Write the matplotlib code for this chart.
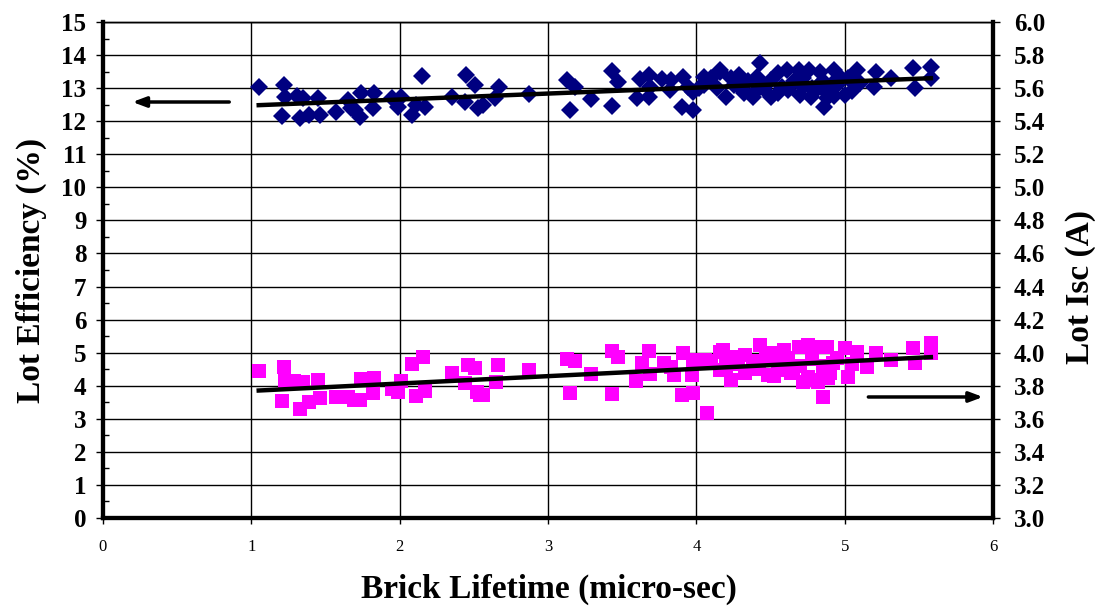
import numpy as np
import matplotlib
matplotlib.use("Agg")
import matplotlib.pyplot as plt
from matplotlib.ticker import MultipleLocator

# Blue diamonds: lifetime (micro-sec) vs lot efficiency (%)
eff_x = [1.05, 1.22, 1.23, 1.21, 1.31, 1.35, 1.33, 1.39, 1.45, 1.46, 1.57, 1.65, 1.67, 1.70,
         1.73, 1.74, 1.83, 1.82, 1.95, 2.01, 1.99, 2.08, 2.11, 2.17, 2.15, 2.35, 2.45, 2.51,
         2.44, 2.53, 2.56, 2.67, 2.64, 2.87, 3.13, 3.18, 3.15, 3.29, 3.43, 3.47, 3.43, 3.60,
         3.62, 3.68, 3.69, 3.68, 3.77, 3.83, 3.82, 3.91, 3.94, 3.90, 3.98, 3.98, 4.05, 4.02,
         4.16, 4.14, 4.16, 4.23, 4.20, 4.29, 4.32, 4.38, 4.43, 4.41, 4.50, 4.55, 4.61, 4.58,
         4.69, 4.72, 4.76, 4.77, 4.83, 4.81, 4.86, 4.88, 4.93, 4.92, 4.97, 5.00, 5.08, 5.10,
         5.21, 5.20, 5.31, 5.46, 5.47, 5.58, 5.58,
         4.25, 4.35, 4.45, 4.50, 4.62, 4.66, 4.72, 4.78, 4.80, 4.85, 4.90, 4.95, 5.02, 5.05,
         4.40, 4.30, 4.05, 4.10, 4.55, 4.70, 4.88, 4.93]
eff_y = [13.02, 13.09, 12.74, 12.17, 12.77, 12.69, 12.09, 12.19, 12.69, 12.19, 12.29, 12.64,
         12.39, 12.34, 12.14, 12.84, 12.84, 12.39, 12.71, 12.74, 12.42, 12.19, 12.49, 12.42,
         13.37, 12.74, 13.40, 13.09, 12.59, 12.39, 12.49, 13.04, 12.69, 12.81, 13.24, 13.04,
         12.34, 12.67, 13.52, 13.19, 12.47, 12.69, 13.27, 13.40, 13.04, 12.74, 13.27, 13.24,
         12.94, 13.35, 13.04, 12.44, 12.34, 12.89, 13.35, 12.99, 13.55, 12.99, 13.50, 13.30,
         12.74, 13.40, 12.84, 12.74, 13.75, 13.35, 12.74, 13.45, 13.55, 13.04, 13.55, 13.04,
         13.55, 12.74, 13.50, 13.04, 12.44, 12.84, 13.55, 13.14, 13.35, 12.79, 13.55, 13.14,
         13.50, 13.04, 13.30, 13.60, 12.99, 13.65, 13.30,
         13.10, 13.20, 13.00, 13.25, 12.95, 13.20, 13.30, 13.00, 12.90, 13.20, 12.95, 13.10,
         13.30, 12.90, 12.90, 13.00, 13.10, 13.30, 12.85, 12.80, 12.70, 12.75]

# Magenta squares: lifetime (micro-sec) vs lot Isc (A)
isc_x = [1.05, 1.22, 1.23, 1.29, 1.35, 1.21, 1.33, 1.39, 1.45, 1.46, 1.57, 1.65, 1.69, 1.73,
         1.74, 1.83, 1.82, 1.95, 2.01, 1.99, 2.08, 2.16, 2.11, 2.17, 2.35, 2.46, 2.51, 2.44,
         2.52, 2.54, 2.56, 2.66, 2.65, 2.87, 3.13, 3.18, 3.15, 3.29, 3.43, 3.47, 3.43, 3.59,
         3.63, 3.68, 3.69, 3.78, 3.83, 3.85, 3.91, 3.90, 3.98, 3.97, 3.98, 4.07, 4.06, 4.16,
         4.16, 4.18, 4.23, 4.25, 4.33, 4.33, 4.43, 4.42, 4.48, 4.52, 4.59, 4.56, 4.64, 4.69,
         4.75, 4.75, 4.81, 4.80, 4.88, 4.89, 4.85, 4.92, 5.00, 5.02, 5.08, 5.15, 5.21, 5.31,
         5.46, 5.47, 5.58, 5.58,
         4.28, 4.38, 4.47, 4.55, 4.62, 4.70, 4.78, 4.85, 4.95, 4.20, 4.40, 4.65, 4.90, 5.05,
         4.52, 4.72, 4.82, 4.10]
isc_y = [3.891, 3.915, 3.830, 3.830, 3.824, 3.709, 3.657, 3.703, 3.835, 3.724, 3.730, 3.734,
         3.714, 3.714, 3.839, 3.849, 3.754, 3.778, 3.830, 3.764, 3.931, 3.976, 3.738, 3.770,
         3.875, 3.925, 3.905, 3.815, 3.764, 3.744, 3.744, 3.925, 3.824, 3.895, 3.960, 3.951,
         3.758, 3.871, 4.012, 3.972, 3.750, 3.830, 3.936, 4.012, 3.871, 3.936, 3.915, 3.865,
         3.996, 3.744, 3.754, 3.865, 3.956, 3.633, 3.956, 4.006, 3.895, 4.016, 3.835, 3.976,
         3.986, 3.875, 4.046, 3.915, 3.865, 3.996, 4.016, 3.895, 3.875, 4.036, 4.046, 3.855,
         4.036, 3.835, 4.036, 3.845, 3.734, 3.936, 4.026, 3.855, 4.006, 3.915, 3.996, 3.956,
         4.026, 3.936, 4.056, 3.996,
         3.93, 3.95, 3.96, 3.94, 3.97, 3.92, 3.96, 3.92, 3.97, 3.92, 3.90, 3.90, 3.88, 3.93,
         3.86, 3.82, 3.82, 3.95]

x_ticks = [0, 1, 2, 3, 4, 5, 6]
eff_ticks = list(range(0, 16))
isc_ticks = [3.0, 3.2, 3.4, 3.6, 3.8, 4.0, 4.2, 4.4, 4.6, 4.8, 5.0, 5.2, 5.4, 5.6, 5.8, 6.0]

serif = ["Liberation Serif", "DejaVu Serif"]
plt.rcParams["font.family"] = serif

fig = plt.figure(figsize=(10.95, 6.07), dpi=100)
ax = fig.add_axes([0.094, 0.1466, 0.813, 0.8172])
ax2 = ax.twinx()

ax.set_xlim(0, 6)
ax.set_ylim(0, 15)
ax2.set_ylim(3.0, 6.0)

ax.set_xticks(x_ticks)
ax.set_yticks(eff_ticks)
ax2.set_yticks(isc_ticks)
ax.yaxis.set_minor_locator(MultipleLocator(0.5))

ax.grid(True, which="major", color="black", linewidth=1.0)
ax.set_axisbelow(True)

# Scatter data
ax.plot(eff_x, eff_y, linestyle="none", marker="D", markersize=9.5,
        color="#000080", markeredgewidth=0, zorder=3)
ax2.plot(isc_x, isc_y, linestyle="none", marker="s", markersize=10,
         color="#FF00FF", markeredgewidth=0, zorder=3)

# Linear trend lines
pe = np.polyfit(eff_x, eff_y, 1)
pi = np.polyfit(isc_x, isc_y, 1)
xe = np.array([min(eff_x), max(eff_x)])
xi = np.array([min(isc_x), max(isc_x)])
ax.plot(xe, np.polyval(pe, xe), color="black", linewidth=3.2, zorder=4)
ax2.plot(xi, np.polyval(pi, xi), color="black", linewidth=3.2, zorder=4)

# Arrows
ax.annotate("", xy=(0.18, 12.58), xytext=(0.87, 12.58),
            arrowprops=dict(arrowstyle="-|>,head_length=0.8,head_width=0.3", color="black", lw=2.5))
ax.annotate("", xy=(5.95, 3.66), xytext=(5.14, 3.66),
            arrowprops=dict(arrowstyle="-|>,head_length=0.8,head_width=0.3", color="black", lw=2.5))

# Spines
for a in (ax, ax2):
    a.spines["left"].set_linewidth(3)
    a.spines["right"].set_linewidth(3)
    a.spines["bottom"].set_linewidth(3)
    a.spines["top"].set_linewidth(1)

ax.tick_params(axis="x", which="major", direction="out", length=4, width=1,
               labelsize=12, pad=11)
ax.tick_params(axis="y", which="major", direction="out", length=5, width=1,
               labelsize=18, pad=7)
ax.tick_params(axis="y", which="minor", direction="in", length=4, width=1)
ax2.tick_params(axis="y", which="major", direction="out", length=5, width=1,
                labelsize=18, pad=10)
for lbl in ax.get_yticklabels():
    lbl.set_fontweight("bold")
ax2.set_yticklabels([f"{v:.1f}" for v in isc_ticks], fontweight="bold", fontsize=18)

ax.set_xlabel("Brick Lifetime (micro-sec)", fontsize=24, fontweight="bold")
ax.xaxis.set_label_coords(0.501, -0.113)
ax.set_ylabel("Lot Efficiency (%)", fontsize=24, fontweight="bold")
ax.yaxis.set_label_coords(-0.063, 0.5)
ax2.set_ylabel("Lot Isc (A)", fontsize=24, fontweight="bold", rotation=90)
ax2.yaxis.set_label_coords(1.081, 0.466)

fig.savefig("out.png", dpi=100)
